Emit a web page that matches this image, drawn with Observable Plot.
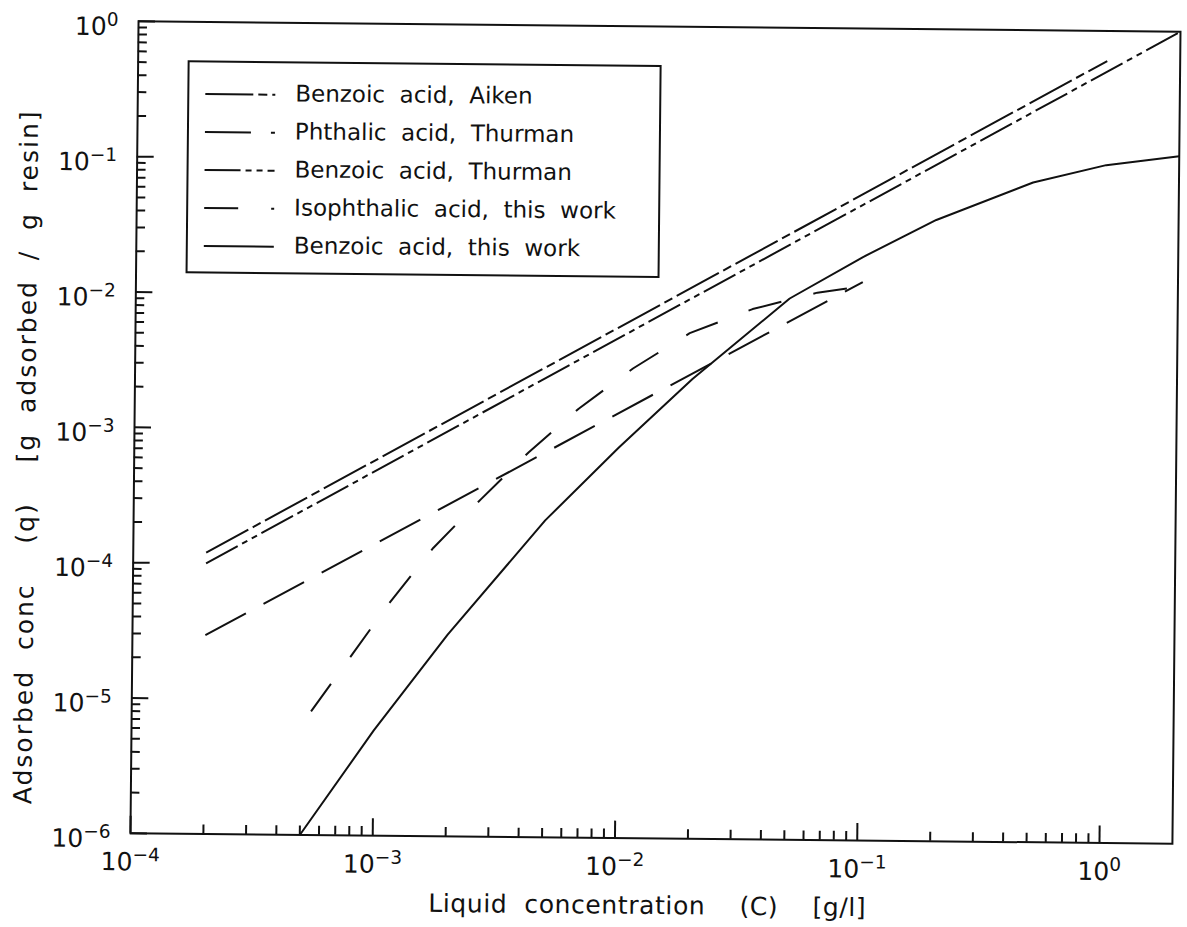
<!DOCTYPE html>
<html>
<head>
<meta charset="utf-8">
<script src="https://cdn.jsdelivr.net/npm/d3@7"></script>
<script src="https://cdn.jsdelivr.net/npm/@observablehq/plot@0.6"></script>
<style>
  body { margin: 0; background: #fff; overflow: hidden; }
  svg text { white-space: pre; }
</style>
</head>
<body>
<div id="chart"></div>
<script>
// Adsorption isotherms: liquid concentration C [g/l] vs adsorbed concentration q [g/g resin]
const benzoicAikenC = [2e-4, 1.0];
const benzoicAikenQ = [1.2e-4, 0.6];

const phthalicThurmanC = [2e-4, 0.1];
const phthalicThurmanQ = [2.95e-5, 1.34e-2];

const benzoicThurmanC = [2e-4, 2.0];
const benzoicThurmanQ = [1.0e-4, 1.0];

const isophthalicC = [5.5e-4, 1.14e-3, 1.73e-3, 2.7e-3, 4.25e-3, 6.8e-3, 1.135e-2, 1.94e-2, 3.52e-2, 6.5e-2, 0.1];
const isophthalicQ = [8.2e-6, 5.2e-5, 1.35e-4, 3.1e-4, 7.0e-4, 1.48e-3, 2.96e-3, 5.45e-3, 8.3e-3, 1.11e-2, 1.25e-2];

const benzoicThisC = [5e-4, 1e-3, 2e-3, 5e-3, 1e-2, 2e-2, 5e-2, 0.1, 0.2, 0.5, 1, 2];
const benzoicThisQ = [1e-6, 6e-6, 3.1e-5, 2.2e-4, 7.7e-4, 2.5e-3, 1.0e-2, 2.05e-2, 3.9e-2, 7.5e-2, 0.102, 0.12];

const seriesNames = [
  "Benzoic  acid,  Aiken",
  "Phthalic  acid,  Thurman",
  "Benzoic  acid,  Thurman",
  "Isophthalic  acid,  this  work",
  "Benzoic  acid,  this  work"
];
const seriesC = [benzoicAikenC, phthalicThurmanC, benzoicThurmanC, isophthalicC, benzoicThisC];
const seriesQ = [benzoicAikenQ, phthalicThurmanQ, benzoicThurmanQ, isophthalicQ, benzoicThisQ];
const seriesDash = ["48,5,9,5", "46,20", "36,5,6,5,6,5", "34,33", null];

const xMajorTicks = [1e-4, 1e-3, 1e-2, 1e-1, 1];
const yMajorTicks = [1e-6, 1e-5, 1e-4, 1e-3, 1e-2, 1e-1, 1];

const xTitle = "Liquid  concentration    (C)    [g/l]";
const yTitle = "Adsorbed  conc    (q)    [g  adsorbed  /  g  resin]";

// ---- layout ----
const W = 1187, H = 927;
const mTop = 26, mRight = 11, mBottom = 89, mLeft = 134;
const innerW = W - mLeft - mRight;
const innerH = H - mTop - mBottom;
const ink = "#111";
const font = "DejaVu Sans, Verdana, sans-serif";

const rows = seriesNames.flatMap((name, i) =>
  seriesC[i].map((c, j) => ({series: name, C: c, q: seriesQ[i][j]})));

// minor tick positions from the log scales themselves
const isMajor = (t, majors) => majors.some(m => Math.abs(Math.log10(t / m)) < 1e-9);
const xMinorTicks = d3.scaleLog().domain([1e-4, 1]).ticks().filter(t => !isMajor(t, xMajorTicks));
const yMinorTicks = d3.scaleLog().domain([1e-6, 1]).ticks().filter(t => !isMajor(t, yMajorTicks));

const expLabel = d => {
  const e = Math.round(Math.log10(d));
  return "10^" + (e < 0 ? "\u2212" + (-e) : String(e));
};

const lineMarks = seriesNames.map((name, i) =>
  Plot.line(rows.filter(r => r.series === name), {
    x: "C", y: "q",
    stroke: ink, strokeWidth: 2,
    strokeDasharray: seriesDash[i] || undefined,
    strokeLinecap: "butt"
  }));

const chart = Plot.plot({
  width: W, height: H,
  marginTop: mTop, marginRight: mRight, marginBottom: mBottom, marginLeft: mLeft,
  style: {fontFamily: font, background: "#fff", color: ink},
  x: {type: "log", domain: [1e-4, 2], axis: null},
  y: {type: "log", domain: [1e-6, 1], axis: null},
  marks: [
    Plot.tickX(xMinorTicks, {x: d => d, insetTop: innerH - 9, stroke: ink, strokeWidth: 2}),
    Plot.tickX(xMajorTicks, {x: d => d, insetTop: innerH - 17, stroke: ink, strokeWidth: 2}),
    Plot.tickY(yMinorTicks, {y: d => d, insetRight: innerW - 9, stroke: ink, strokeWidth: 2}),
    Plot.tickY(yMajorTicks, {y: d => d, insetRight: innerW - 17, stroke: ink, strokeWidth: 2}),
    Plot.frame({stroke: ink, strokeWidth: 2}),
    ...lineMarks,
    Plot.text(xMajorTicks, {
      x: d => d, frameAnchor: "bottom", dy: 37, text: expLabel,
      fontSize: 25, fill: ink, textAnchor: "middle"
    }),
    Plot.text(yMajorTicks, {
      y: d => d, frameAnchor: "left", dx: -20, dy: 6, text: expLabel,
      fontSize: 25, fill: ink, textAnchor: "end"
    })
  ]
});

const svg = d3.select(chart);

// turn "10^e" into 10 with a raised exponent
svg.selectAll("text").each(function() {
  const t = d3.select(this);
  const s = t.text();
  if (!s.includes("^")) return;
  const [base, exp] = s.split("^");
  t.text(null);
  t.append("tspan").text(base);
  t.append("tspan").attr("dy", "-0.5em").attr("font-size", "0.74em").text(exp);
});

// axis titles
svg.append("text")
  .attr("x", mLeft + innerW / 2 - 3).attr("y", H - 13)
  .attr("text-anchor", "middle")
  .attr("font-family", font).attr("font-size", 25).attr("letter-spacing", 0.6).attr("fill", ink)
  .text(xTitle);

svg.append("text")
  .attr("transform", "translate(28,463) rotate(-90)")
  .attr("text-anchor", "middle").attr("dominant-baseline", "middle")
  .attr("font-family", font).attr("font-size", 25).attr("letter-spacing", 2).attr("fill", ink)
  .text(yTitle);

// legend box
const lg = svg.append("g").attr("aria-label", "legend");
lg.append("rect")
  .attr("x", 185).attr("y", 66).attr("width", 472).attr("height", 211)
  .attr("fill", "#fff").attr("stroke", ink).attr("stroke-width", 2);
seriesNames.forEach((name, i) => {
  const y = 98.5 + i * 38;
  lg.append("line")
    .attr("x1", 202).attr("x2", 272).attr("y1", y).attr("y2", y)
    .attr("stroke", ink).attr("stroke-width", 2)
    .attr("stroke-dasharray", seriesDash[i] || null);
  lg.append("text")
    .attr("x", 292).attr("y", y).attr("dominant-baseline", "middle")
    .attr("text-anchor", "start")
    .attr("font-family", font).attr("font-size", 23).attr("fill", ink)
    .text(name);
});

// the printed sheet sits very slightly turned
chart.style.transformOrigin = "655px 430px";
chart.style.transform = "rotate(0.57deg)";

document.getElementById("chart").append(chart);
</script>
</body>
</html>
